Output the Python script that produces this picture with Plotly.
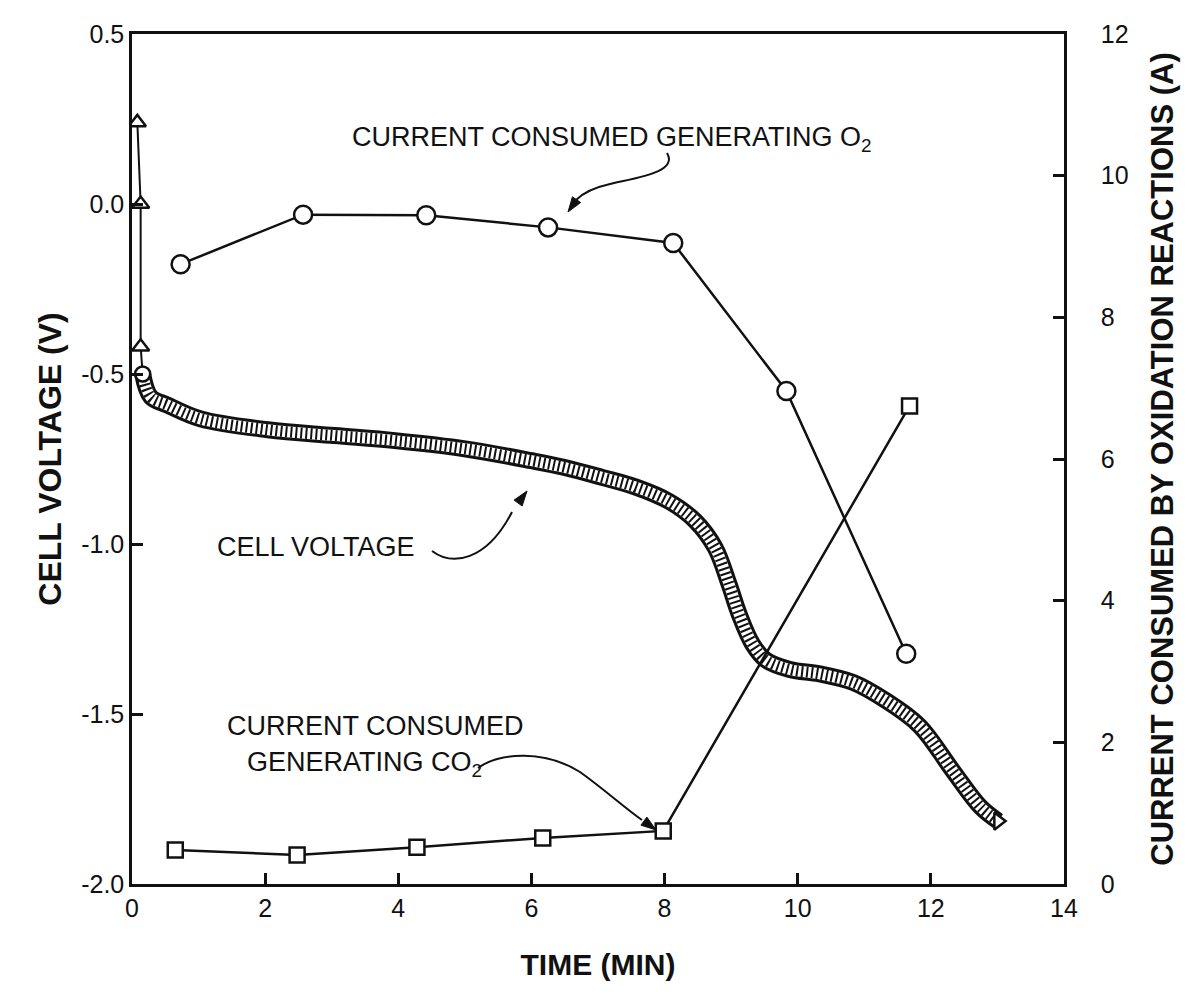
import plotly.graph_objects as go

# ---- data -------------------------------------------------------------
# Cell voltage (left axis, V) against time (min)
volt_time = [0.08, 0.13, 0.13, 0.16, 0.28, 0.53, 1.03, 2.04, 3.04, 3.95, 5.0,
             6.0, 6.5, 7.06, 7.56, 8.07, 8.46, 8.76, 8.97, 9.12, 9.32, 9.52,
             9.88, 10.33, 10.83, 11.32, 11.83, 12.33, 12.74, 13.01]
volt_value = [0.24, 0.0, -0.42, -0.50, -0.567, -0.591, -0.632, -0.664, -0.681,
              -0.696, -0.72, -0.755, -0.775, -0.804, -0.832, -0.875, -0.932,
              -1.011, -1.119, -1.206, -1.294, -1.341, -1.369, -1.382, -1.407,
              -1.46, -1.535, -1.667, -1.772, -1.815]
n_start = 3  # first readings, plotted as open triangles

# Current consumed generating O2 (right axis, A)
o2_time = [0.73, 2.57, 4.42, 6.25, 8.13, 9.83, 11.63]
o2_current = [8.75, 9.45, 9.44, 9.27, 9.05, 6.96, 3.25]

# Current consumed generating CO2 (right axis, A)
co2_time = [0.65, 2.48, 4.28, 6.17, 7.98, 11.68]
co2_current = [0.48, 0.41, 0.52, 0.65, 0.75, 6.75]

# Tick labels
x_ticks = [0, 2, 4, 6, 8, 10, 12, 14]
v_ticks = [0.5, 0.0, -0.5, -1.0, -1.5, -2.0]
v_tick_text = ["0.5", "0.0", "-0.5", "-1.0", "-1.5", "-2.0"]
a_ticks = [0, 2, 4, 6, 8, 10, 12]

# ---- geometry ---------------------------------------------------------
W, H = 1202, 1002
L, R, T, B = 132, 1064, 34, 884  # plot-area edges in page pixels

INK = "#111111"
FONT = "Liberation Sans, Arial, Helvetica, sans-serif"


def to_paper(px, py):
    """Page pixel position -> paper coordinates of the plot area."""
    return (px - L) / (R - L), (B - py) / (B - T)


def curve_path(points):
    """Cubic Bezier path string (paper coords) from pixel control points."""
    pts = [to_paper(x, y) for x, y in points]
    s = "M {:.5f},{:.5f}".format(*pts[0])
    for i in range(1, len(pts), 3):
        s += " C {:.5f},{:.5f} {:.5f},{:.5f} {:.5f},{:.5f}".format(
            *pts[i], *pts[i + 1], *pts[i + 2])
    return s


def head_path(tip, back, length=15, half=5):
    """Filled arrowhead ending at tip, aligned with the direction back->tip."""
    dx, dy = tip[0] - back[0], tip[1] - back[1]
    n = (dx * dx + dy * dy) ** 0.5
    ux, uy = dx / n, dy / n
    bx, by = tip[0] - ux * length, tip[1] - uy * length
    p1 = (bx - uy * half, by + ux * half)
    p2 = (bx + uy * half, by - ux * half)
    pts = [to_paper(*tip), to_paper(*p1), to_paper(*p2)]
    return "M {:.5f},{:.5f} L {:.5f},{:.5f} L {:.5f},{:.5f} Z".format(
        *pts[0], *pts[1], *pts[2])


fig = go.Figure()

# ---- cell voltage -----------------------------------------------------
vt, vv = volt_time[n_start:], volt_value[n_start:]
fig.add_trace(go.Scatter(x=volt_time[:n_start + 1], y=volt_value[:n_start + 1],
                         mode="lines", line=dict(color=INK, width=2),
                         hoverinfo="skip"))
fig.add_trace(go.Scatter(x=volt_time[:n_start], y=volt_value[:n_start],
                         mode="markers",
                         marker=dict(symbol="triangle-up", size=15,
                                     color="white",
                                     line=dict(color=INK, width=2.5))))
# dense ring markers rendered as a hatched ribbon
fig.add_trace(go.Scatter(x=vt, y=vv, mode="lines",
                         line=dict(color=INK, width=17, shape="spline"),
                         hoverinfo="skip"))
fig.add_trace(go.Scatter(x=vt, y=vv, mode="lines",
                         line=dict(color="white", width=11, shape="spline"),
                         hoverinfo="skip"))
fig.add_trace(go.Scatter(x=vt, y=vv, mode="lines",
                         line=dict(color=INK, width=11, shape="spline",
                                   dash="2px,3px"),
                         name="Cell voltage"))
fig.add_trace(go.Scatter(x=[vt[0], vt[-1]], y=[vv[0], vv[-1]], mode="markers",
                         marker=dict(symbol=["circle", "triangle-right"],
                                     size=15, color="white",
                                     line=dict(color=INK, width=2.5)),
                         hoverinfo="skip"))

# ---- oxidation currents -----------------------------------------------
fig.add_trace(go.Scatter(x=o2_time, y=o2_current, yaxis="y2",
                         mode="lines+markers", name="O2",
                         line=dict(color=INK, width=2.5),
                         marker=dict(symbol="circle", size=18, color="white",
                                     line=dict(color=INK, width=2.5))))
fig.add_trace(go.Scatter(x=co2_time, y=co2_current, yaxis="y2",
                         mode="lines+markers", name="CO2",
                         line=dict(color=INK, width=2.5),
                         marker=dict(symbol="square", size=15, color="white",
                                     line=dict(color=INK, width=2.5))))

# ---- callout arrows ---------------------------------------------------
arrows = [
    # O2 label -> O2 curve
    ([(667, 153), (678, 172), (640, 177), (610, 184),
      (592, 188), (582, 194), (576, 200)], (568, 212), (577, 199)),
    # CELL VOLTAGE label -> voltage ribbon
    ([(432, 551), (452, 566), (486, 562), (512, 512)], (527, 491), (513, 510)),
    # CO2 label -> CO2 curve
    ([(478, 768), (500, 752), (545, 750), (580, 772),
      (605, 790), (625, 808), (642, 820)], (656, 830), (641, 819)),
]
shapes = []
for pts, tip, back in arrows:
    shapes.append(dict(type="path", xref="paper", yref="paper",
                       path=curve_path(pts), line=dict(color=INK, width=2)))
    shapes.append(dict(type="path", xref="paper", yref="paper",
                       path=head_path(tip, back), fillcolor=INK,
                       line=dict(color=INK, width=1)))

labels = [
    ("CURRENT CONSUMED GENERATING O<sub>2</sub>", 612, 139),
    ("CELL VOLTAGE", 316, 547),
    ("CURRENT CONSUMED", 375, 726),
    ("GENERATING CO<sub>2</sub>", 364, 764),
]
annotations = []
for text, px, py in labels:
    xp, yp = to_paper(px, py)
    annotations.append(dict(text=text, x=xp, y=yp, xref="paper", yref="paper",
                            showarrow=False, xanchor="center", yanchor="middle",
                            font=dict(family=FONT, size=27, color=INK)))

axis_common = dict(showgrid=False, zeroline=False, showline=True,
                   linecolor=INK, linewidth=2.5, ticks="inside", ticklen=11,
                   tickwidth=2.5, tickcolor=INK,
                   tickfont=dict(family=FONT, size=25, color=INK))

fig.update_layout(
    width=W, height=H,
    margin=dict(l=L, r=W - R, t=T, b=H - B, autoexpand=False),
    paper_bgcolor="white", plot_bgcolor="white",
    showlegend=False,
    shapes=shapes, annotations=annotations,
    xaxis=dict(range=[0, 14], tickvals=x_ticks, mirror=True,
               title=dict(text="<b>TIME (MIN)</b>", standoff=34,
                          font=dict(family=FONT, size=30, color=INK)),
               **axis_common),
    yaxis=dict(range=[-2.0, 0.5], tickvals=v_ticks, ticktext=v_tick_text,
               title=dict(text="<b>CELL VOLTAGE (V)</b>", standoff=10,
                          font=dict(family=FONT, size=32, color=INK)),
               **axis_common),
    yaxis2=dict(range=[0, 12], tickvals=a_ticks, overlaying="y", side="right",
                ticklabelstandoff=29,
                title=dict(text="<b>CURRENT CONSUMED BY OXIDATION REACTIONS (A)</b>",
                           standoff=24,
                           font=dict(family=FONT, size=31, color=INK)),
                **axis_common),
)

fig.write_html("out.html")
